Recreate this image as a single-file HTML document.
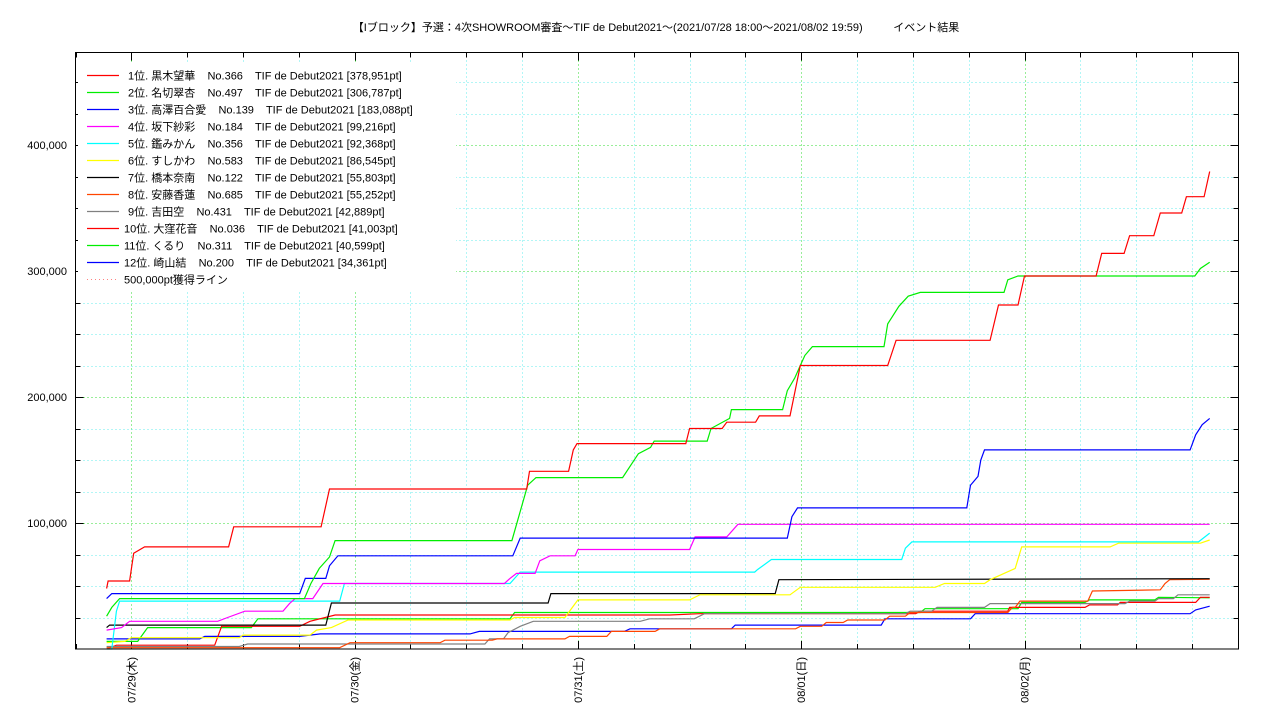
<!DOCTYPE html>
<html><head><meta charset="utf-8"><style>
html,body{margin:0;padding:0;background:#fff;}
svg{display:block;font-family:"Liberation Sans","Noto Sans CJK JP",sans-serif;}
text{white-space:pre;}
</style></head><body>
<svg id="chart" width="1280" height="720" viewBox="0 0 1280 720" xmlns="http://www.w3.org/2000/svg">
<text x="656" y="31" font-size="11" text-anchor="middle" fill="#000">【Iブロック】予選：4次SHOWROOM審査〜TIF de Debut2021〜(2021/07/28 18:00〜2021/08/02 19:59)          イベント結果</text>
<g id="grid"></g>
<g id="axes"></g>
<g id="series"></g>
<g id="legend"></g>
<rect x="75.5" y="52.5" width="1163" height="596.5" fill="none" stroke="#000" stroke-width="1"/>
</svg>
<script>
// hours relative to 07/29 00:00, values in thousands of points
const dayLabels = ["07/29(木)","07/30(金)","07/31(土)","08/01(日)","08/02(月)"];
const yTickValues = [100,200,300,400];
const yTickLabels = ["100,000","200,000","300,000","400,000"];
const seriesNames = ["1位. 黒木望華    No.366    TIF de Debut2021 [378,951pt]","2位. 名切翠杏    No.497    TIF de Debut2021 [306,787pt]","3位. 高澤百合愛    No.139    TIF de Debut2021 [183,088pt]","4位. 坂下紗彩    No.184    TIF de Debut2021 [99,216pt]","5位. 鑑みかん    No.356    TIF de Debut2021 [92,368pt]","6位. すしかわ    No.583    TIF de Debut2021 [86,545pt]","7位. 橋本奈南    No.122    TIF de Debut2021 [55,803pt]","8位. 安藤香蓮    No.685    TIF de Debut2021 [55,252pt]","9位. 吉田空    No.431    TIF de Debut2021 [42,889pt]","10位. 大窪花音    No.036    TIF de Debut2021 [41,003pt]","11位. くるり    No.311    TIF de Debut2021 [40,599pt]","12位. 崎山結    No.200    TIF de Debut2021 [34,361pt]"];
const seriesColors = ["#ff0000","#00ee00","#0000ff","#ff00ff","#00ffff","#ffff00","#000000","#ff4500","#808080","#ff0000","#00ee00","#0000ff"];
const s1 = [[-2.66,48],[-2.5,54],[-0.18,54],[0.25,76],[1.43,81],[10.46,81],[11.0,97],[20.4,97],[21.3,127],[42.5,127],[42.8,141],[47.0,141],[47.5,158],[47.9,163],[59.6,163],[60,175],[63.5,175],[64,180],[67.1,180],[67.5,185],[70.8,185],[71.9,225],[81.3,225],[82.2,245],[92.3,245],[93.2,273],[95.3,273],[96,296],[103.7,296],[104.3,314],[106.7,314],[107.3,328],[109.9,328],[110.6,346],[112.9,346],[113.4,359],[115.3,359],[115.9,379]];
const s2 = [[-2.66,26],[-2.1,33],[-1.26,40],[18.6,40],[19.3,52],[20.2,64],[21.3,73],[21.9,86],[40.9,86],[42.6,130],[43.5,136],[52.8,136],[54.5,155],[55.8,160],[56.2,165],[61.9,165],[62.3,175],[64.3,183],[64.5,190],[70,190],[70.5,205],[71.3,215],[71.9,225],[72.4,233],[73.2,240],[80.9,240],[81.3,258],[82.5,272],[83.5,280],[84.8,283],[93.8,283],[94.2,293],[95.3,296],[114.3,296],[114.9,302],[115.9,307]];
const s3 = [[-2.66,40],[-2.1,44],[18.1,44],[18.7,56],[20.9,56],[21.3,66],[22.2,74],[41.0,74],[41.8,88],[70.5,88],[71.0,105],[71.6,112],[89.8,112],[90.2,130],[91.0,137],[91.3,150],[91.7,158],[113.8,158],[114.4,170],[115.1,178],[115.9,183]];
const s4 = [[-2.66,15],[-1.04,17],[-0.18,22],[9.28,22],[10.35,25],[12.2,30],[16.3,30],[17.0,36],[17.6,40],[19.5,40],[20.6,52],[40.1,52],[40.7,56],[41.4,60],[43.4,60],[43.9,70],[45.0,74],[47.7,74],[48.0,79],[60.0,79],[60.6,89],[64.0,89],[65.2,99],[115.9,99]];
const s5 = [[-2.66,0],[-2.1,0],[-1.6,30],[-1.26,38],[22.4,38],[22.9,52],[40.7,52],[41.2,56],[41.8,61],[67.0,61],[67.3,63],[68.8,71],[82.8,71],[83.2,80],[83.9,85],[114.7,85],[115.9,92]];
const s6 = [[-2.66,5],[-0.7,6],[0,9],[11.6,9],[12,11],[19.2,11],[19.9,15],[21.5,17],[23.3,23],[40.7,23],[41.2,25],[46.6,25],[48,39],[60,39],[61.1,43],[70.8,43],[71.9,49],[86.4,49],[87.4,52],[91.7,52],[92.3,55],[95.0,64],[95.7,81],[105.2,81],[106.1,84],[114.9,84],[115.9,86.5]];
const s7 = [[-2.66,17],[-2.33,19],[20.9,19],[21.5,36.5],[44.8,36.5],[45.1,44],[69.2,44],[69.6,55],[115.9,55.8]];
const s8 = [[-2.66,1],[22.4,1],[23.5,5],[33.2,5],[33.7,7],[38.8,7],[39.3,8],[46.6,8],[47.1,10],[51.1,10],[51.6,14],[56.3,14],[56.8,16],[71.4,16],[71.9,18],[74.2,18],[74.7,21],[76.5,21],[77,23],[81,23],[81.5,26],[83.2,26],[83.7,29],[94.2,29],[94.7,33],[95,33],[95.5,38],[102.8,38],[103.3,46],[110.6,47],[111.1,52],[111.6,55],[115.9,55.3]];
const s9 = [[-2.66,2],[11.6,2],[12.5,4],[38,4],[38.5,8],[40,8],[40.5,13],[41.8,18],[43.2,22],[54.7,22],[55.7,24],[60.5,24],[61.6,28],[83.2,28],[83.7,30],[86,30],[86.6,33],[91.7,33],[92.3,36],[106.8,36],[107.3,38],[110,38],[110.4,40],[112,40],[112.5,43],[115.9,43]];
const s10 = [[-2.66,0],[-1.6,3],[8.96,3],[9.7,18],[18.1,18],[19.2,22],[21.9,27],[57.9,27],[61.1,28],[84.3,28],[84.8,30],[94.2,30],[94.4,33],[102.5,33],[103,35],[106,35],[106.3,37],[114.4,37],[114.9,41],[115.9,41]];
const s11 = [[-2.66,6],[0.68,6],[1.75,17],[12.9,17],[13.6,24],[40.7,24],[41.2,29],[84.8,29],[85.3,32],[95.3,32],[95.7,37],[102.5,37],[103,39],[110,39],[110.4,41],[115.9,40.6]];
const s12 = [[-2.66,8],[7.34,8],[7.9,10],[18.1,10],[20.3,12],[36.4,12],[37.4,14],[53,14],[53.6,16],[64.5,16],[64.9,19],[80.6,19],[81,24],[90.2,24],[90.7,28],[113.8,28],[114.4,31],[115.9,34]];
const allSeries = [s1,s2,s3,s4,s5,s6,s7,s8,s9,s10,s11,s12];

const NS="http://www.w3.org/2000/svg";
const X0=75.5, X1=1238.5, Y0=649, Y1=52.5;
const H0=-6, H1=119; // 07/28 18:00 .. 08/02 23:00
function xs(h){return X0+(h-H0)/(H1-H0)*(X1-X0);}
function ys(v){return Y0-v*1.26;}
function mk(tag,parent){const e=document.createElementNS(NS,tag);parent.appendChild(e);return e;}

const grid=document.getElementById('grid'), axes=document.getElementById('axes');
for(let h=H0;h<=H1;h+=6){
  const x=Math.round(xs(h))+0.5;
  const isDay=((h%24)+24)%24===0;
  if(h>H0&&h<H1){
    const l=mk('line',grid);
    
    
    l.setAttribute('x1',x);l.setAttribute('x2',x);l.setAttribute('y1',Y1);l.setAttribute('y2',Y0);
    l.setAttribute('stroke',isDay?'#33dd33':'#66eeee');l.setAttribute('stroke-dasharray','1,3');
  }
  const t1=mk('line',axes);
  
  
  t1.setAttribute('x1',x);t1.setAttribute('x2',x);t1.setAttribute('y1',Y0);t1.setAttribute('y2',Y0-(isDay?8:5));t1.setAttribute('stroke','#000');
  const t2=mk('line',axes);
  
  
  t2.setAttribute('x1',x);t2.setAttribute('x2',x);t2.setAttribute('y1',Y1);t2.setAttribute('y2',Y1+(isDay?8:5));t2.setAttribute('stroke','#000');
}
dayLabels.forEach((lab,i)=>{
  const x=xs(i*24)+4;
  const t=mk('text',axes);
  
  
  t.setAttribute('transform','translate('+x+',657) rotate(-90)');
  t.setAttribute('text-anchor','end');t.setAttribute('font-size','11');
  t.textContent=lab;
});
for(let v=25;v*1.26<Y0-Y1;v+=25){
  const y=Math.round(ys(v))+0.5;
  const l=mk('line',grid);
  
  
  l.setAttribute('x1',X0);l.setAttribute('x2',X1);l.setAttribute('y1',y);l.setAttribute('y2',y);
  l.setAttribute('stroke',v%100===0?'#33dd33':'#66eeee');l.setAttribute('stroke-dasharray','1,3');
  [[X0,X0+(v%100===0?8:5)],[X1,X1-(v%100===0?8:5)]].forEach(p=>{
    const t=mk('line',axes);
    
    
    t.setAttribute('x1',p[0]);t.setAttribute('x2',p[1]);t.setAttribute('y1',y);t.setAttribute('y2',y);t.setAttribute('stroke','#000');
  });
}
yTickValues.forEach((v,i)=>{
  const t=mk('text',axes);
  
  
  t.setAttribute('x',67);t.setAttribute('y',ys(v)+4);t.setAttribute('text-anchor','end');t.setAttribute('font-size','11');
  t.textContent=yTickLabels[i];
});
const sg=document.getElementById('series');
for(let i=allSeries.length-1;i>=0;i--){
  const p=mk('polyline',sg);
  
  
  p.setAttribute('points',allSeries[i].map(d=>xs(d[0]).toFixed(1)+','+ys(d[1]).toFixed(1)).join(' '));
  p.setAttribute('fill','none');p.setAttribute('stroke',seriesColors[i]);p.setAttribute('stroke-width','1.2');
}
const lg=document.getElementById('legend');
const bg=mk('rect',lg);


bg.setAttribute('x',78);bg.setAttribute('y',64);bg.setAttribute('width',378);bg.setAttribute('height',226);bg.setAttribute('fill','#fff');
seriesNames.forEach((n,i)=>{
  const y=75.5+i*17;
  const l=mk('line',lg);
  
  
  l.setAttribute('x1',87);l.setAttribute('x2',119);l.setAttribute('y1',y);l.setAttribute('y2',y);l.setAttribute('stroke',seriesColors[i]);l.setAttribute('stroke-width','1.2');
  const t=mk('text',lg);
  
  
  t.setAttribute('x',i>=9?124:128);t.setAttribute('y',y+4);t.setAttribute('font-size','11');
  t.textContent=n;
});
const y13=75.5+12*17;
const dl=mk('line',lg);


dl.setAttribute('x1',87);dl.setAttribute('x2',119);dl.setAttribute('y1',y13);dl.setAttribute('y2',y13);dl.setAttribute('stroke','#ff8080');dl.setAttribute('stroke-dasharray','1,3');
const dt=mk('text',lg);


dt.setAttribute('x',124);dt.setAttribute('y',y13+4);dt.setAttribute('font-size','11');
dt.textContent='500,000pt獲得ライン';
</script>
</body></html>
